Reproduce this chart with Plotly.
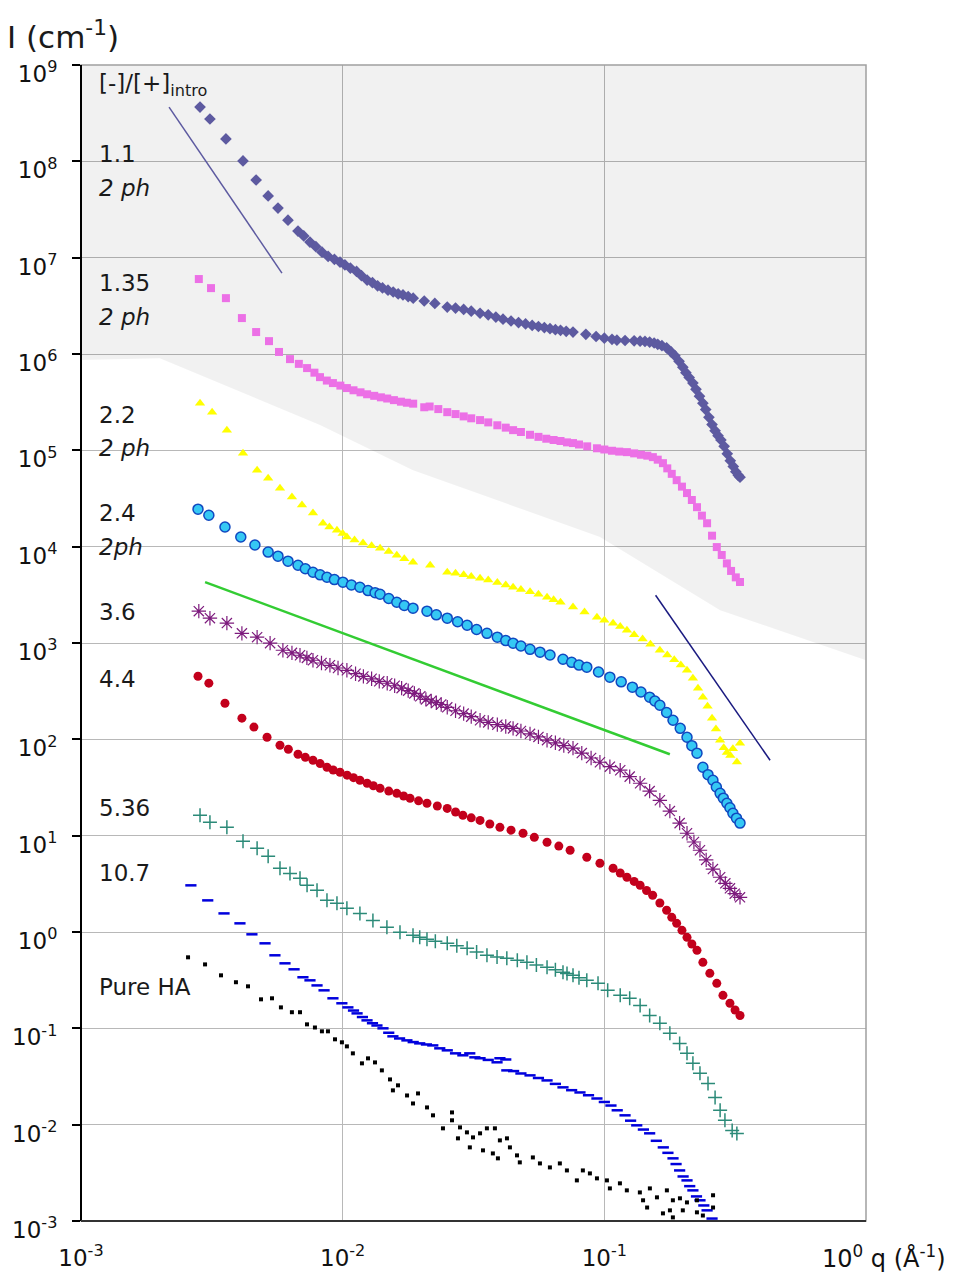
import plotly.graph_objects as go

# ---- SAXS curves: q (1/Å) and I (1/cm) for each [-]/[+] ratio ----
q_11 = [0.00285, 0.00311, 0.00358, 0.00416, 0.00467, 0.00519, 0.00566, 0.00618, 0.00675, 0.0071,
        0.0075, 0.0079, 0.00834, 0.0088, 0.0093, 0.00977, 0.0102, 0.0107, 0.0113, 0.0118,
        0.0124, 0.013, 0.0136, 0.0142, 0.0149, 0.0156, 0.0163, 0.017, 0.0178, 0.0186,
        0.0205, 0.0225, 0.0251, 0.027, 0.029, 0.031, 0.0335, 0.036, 0.0385, 0.041,
        0.044, 0.047, 0.05, 0.053, 0.056, 0.059, 0.062, 0.065, 0.068, 0.0715,
        0.0759, 0.085, 0.093, 0.1, 0.107, 0.1117, 0.12, 0.13, 0.137, 0.143,
        0.149, 0.155, 0.16, 0.166, 0.173, 0.18, 0.186, 0.193, 0.1995, 0.205,
        0.211, 0.218, 0.224, 0.231, 0.238, 0.244, 0.251, 0.258, 0.265, 0.272,
        0.279, 0.287, 0.295, 0.303, 0.311, 0.318, 0.325, 0.33]
I_11 = [3.66e8, 2.75e8, 1.71e8, 1.01e8, 6.4e7, 4.37e7, 3.27e7, 2.45e7, 1.89e7, 1.68e7,
        1.45e7, 1.3e7, 1.14e7, 1.03e7, 9.6e6, 9.0e6, 8.4e6, 7.8e6, 7.2e6, 6.5e6,
        5.85e6, 5.5e6, 5.1e6, 4.85e6, 4.6e6, 4.4e6, 4.2e6, 4.1e6, 3.95e6, 3.8e6,
        3.55e6, 3.35e6, 3.07e6, 3.0e6, 2.9e6, 2.78e6, 2.65e6, 2.55e6, 2.42e6, 2.3e6,
        2.2e6, 2.12e6, 2.05e6, 1.98e6, 1.93e6, 1.88e6, 1.83e6, 1.79e6, 1.76e6, 1.72e6,
        1.69e6, 1.6e6, 1.52e6, 1.46e6, 1.42e6, 1.39e6, 1.38e6, 1.37e6, 1.36e6, 1.35e6,
        1.33e6, 1.3e6, 1.26e6, 1.22e6, 1.16e6, 1.05e6, 9.6e5, 8.4e5, 7.3e5, 6.4e5,
        5.7e5, 4.99e5, 4.3e5, 3.65e5, 3.09e5, 2.65e5, 2.2e5, 1.85e5, 1.6e5, 1.42e5,
        1.28e5, 1.1e5, 9.2e4, 7.8e4, 6.8e4, 6.0e4, 5.5e4, 5.27e4]

q_135 = [0.00282, 0.00314, 0.00358, 0.00412, 0.00467, 0.00523, 0.00571, 0.00629, 0.0068, 0.00731,
         0.0078, 0.00819, 0.0087, 0.00918, 0.0098, 0.01038, 0.011, 0.0117, 0.0124, 0.0132,
         0.014, 0.0148, 0.0157, 0.0167, 0.0176, 0.0186, 0.0205, 0.0215, 0.0232, 0.0251,
         0.027, 0.029, 0.031, 0.0335, 0.036, 0.039, 0.042, 0.0448, 0.048, 0.052,
         0.056, 0.06, 0.064, 0.068, 0.072, 0.0759, 0.08, 0.086, 0.0937, 0.1,
         0.107, 0.114, 0.122, 0.13, 0.138, 0.146, 0.1533, 0.16, 0.1675, 0.174,
         0.181, 0.189, 0.198, 0.207, 0.216, 0.226, 0.236, 0.247, 0.258, 0.269,
         0.281, 0.294, 0.305, 0.318, 0.33]
I_135 = [6.0e6, 4.83e6, 3.8e6, 2.36e6, 1.69e6, 1.36e6, 1.05e6, 8.85e5, 7.9e5, 7.14e5,
         6.4e5, 5.75e5, 5.3e5, 4.99e5, 4.7e5, 4.43e5, 4.2e5, 4.0e5, 3.82e5, 3.68e5,
         3.55e5, 3.45e5, 3.32e5, 3.2e5, 3.12e5, 3.05e5, 2.8e5, 2.85e5, 2.68e5, 2.49e5,
         2.38e5, 2.25e5, 2.15e5, 2.06e5, 1.95e5, 1.82e5, 1.72e5, 1.62e5, 1.55e5, 1.45e5,
         1.38e5, 1.32e5, 1.28e5, 1.25e5, 1.21e5, 1.19e5, 1.15e5, 1.1e5, 1.05e5, 1.02e5,
         9.9e4, 9.7e4, 9.58e4, 9.3e4, 9.0e4, 8.8e4, 8.5e4, 8.0e4, 7.36e4, 6.5e4,
         5.7e4, 4.9e4, 4.2e4, 3.6e4, 3.05e4, 2.57e4, 2.1e4, 1.75e4, 1.3e4, 9.9e3,
         8.2e3, 6.7e3, 5.6e3, 4.8e3, 4.3e3]

q_22 = [0.00285, 0.00317, 0.00361, 0.00416, 0.00471, 0.00519, 0.00576, 0.0064, 0.00699, 0.0077,
        0.00841, 0.0089, 0.00951, 0.01, 0.01038, 0.0111, 0.01196, 0.0129, 0.0139, 0.015,
        0.0161, 0.0172, 0.01857, 0.0216, 0.0251, 0.027, 0.029, 0.031, 0.0335, 0.036,
        0.039, 0.042, 0.0448, 0.048, 0.052, 0.056, 0.0604, 0.064, 0.068, 0.0759,
        0.084, 0.0937, 0.1, 0.108, 0.115, 0.122, 0.13, 0.14, 0.15, 0.163,
        0.174, 0.185, 0.196, 0.207, 0.218, 0.228, 0.238, 0.248, 0.258, 0.267,
        0.277, 0.286, 0.294, 0.303, 0.31, 0.321, 0.33]
I_22 = [3.09e5, 2.49e5, 1.62e5, 9.35e4, 6.23e4, 5.14e4, 4.05e4, 3.27e4, 2.7e4, 2.23e4,
        1.75e4, 1.6e4, 1.48e4, 1.37e4, 1.26e4, 1.17e4, 1.09e4, 1.02e4, 9.64e3, 8.9e3,
        8.16e3, 7.5e3, 6.9e3, 6.43e3, 5.43e3, 5.3e3, 5.1e3, 4.9e3, 4.71e3, 4.5e3,
        4.25e3, 4.0e3, 3.8e3, 3.6e3, 3.4e3, 3.2e3, 2.99e3, 2.82e3, 2.65e3, 2.36e3,
        2.1e3, 1.85e3, 1.72e3, 1.6e3, 1.48e3, 1.36e3, 1.22e3, 1.1e3, 9.7e2, 8.4e2,
        7.5e2, 6.7e2, 5.9e2, 5.2e2, 4.3e2, 3.4e2, 2.74e2, 2.2e2, 1.66e2, 1.28e2,
        98, 82, 73, 68, 80, 58, 91]

q_24 = [0.0028, 0.00308, 0.00355, 0.00408, 0.00462, 0.00519, 0.00566, 0.00618, 0.00675, 0.0072,
        0.0077, 0.0082, 0.00871, 0.0093, 0.01002, 0.0108, 0.01164, 0.0125, 0.0133, 0.0139,
        0.015, 0.0161, 0.0172, 0.01857, 0.021, 0.0228, 0.0251, 0.0275, 0.0299, 0.0325,
        0.0356, 0.039, 0.042, 0.0448, 0.048, 0.052, 0.0568, 0.062, 0.0695, 0.075,
        0.08, 0.0857, 0.095, 0.105, 0.116, 0.128, 0.138, 0.149, 0.156, 0.163,
        0.173, 0.183, 0.195, 0.207, 0.216, 0.226, 0.238, 0.249, 0.26, 0.268,
        0.277, 0.285, 0.294, 0.302, 0.31, 0.32, 0.33]
I_24 = [2.45e4, 2.12e4, 1.6e4, 1.26e4, 1.04e4, 8.78e3, 7.97e3, 7.07e3, 6.42e3, 5.9e3,
        5.43e3, 5.1e3, 4.82e3, 4.55e3, 4.28e3, 4.0e3, 3.79e3, 3.5e3, 3.33e3, 3.21e3,
        2.9e3, 2.65e3, 2.45e3, 2.3e3, 2.14e3, 1.96e3, 1.81e3, 1.66e3, 1.53e3, 1.38e3,
        1.26e3, 1.15e3, 1.06e3, 9.96e2, 9.3e2, 8.6e2, 8.03e2, 7.5e2, 6.79e2, 6.3e2,
        5.9e2, 5.61e2, 5.0e2, 4.42e2, 3.95e2, 3.48e2, 3.1e2, 2.74e2, 2.5e2, 2.26e2,
        1.9e2, 1.58e2, 1.3e2, 1.05e2, 86, 71.8, 51.3, 43, 37.6, 32,
        27.5, 24.5, 21.7, 19.5, 17.1, 15.2, 13.5]

q_36 = [0.00282, 0.00311, 0.00361, 0.00412, 0.00471, 0.00528, 0.00591, 0.0064, 0.00687, 0.0073,
        0.0077, 0.0083, 0.00894, 0.0096, 0.01038, 0.0112, 0.012, 0.0129, 0.0138, 0.0148,
        0.0158, 0.0168, 0.0178, 0.0188, 0.0198, 0.0208, 0.0218, 0.0228, 0.0238, 0.0251,
        0.027, 0.029, 0.031, 0.0335, 0.036, 0.039, 0.042, 0.0448, 0.048, 0.052,
        0.056, 0.0604, 0.065, 0.07, 0.0759, 0.082, 0.089, 0.0962, 0.105, 0.115,
        0.125, 0.137, 0.149, 0.163, 0.178, 0.194, 0.207, 0.22, 0.232, 0.245,
        0.26, 0.277, 0.29, 0.302, 0.315, 0.33]
I_36 = [2.14e3, 1.81e3, 1.61e3, 1.26e3, 1.15e3, 9.96e2, 8.41e2, 7.9e2, 7.46e2, 7.0e2,
        6.62e2, 6.2e2, 5.87e2, 5.5e2, 5.21e2, 4.8e2, 4.5e2, 4.25e2, 4.0e2, 3.82e2,
        3.6e2, 3.4e2, 3.2e2, 3.0e2, 2.8e2, 2.6e2, 2.5e2, 2.4e2, 2.3e2, 2.15e2,
        1.98e2, 1.85e2, 1.72e2, 1.58e2, 1.5e2, 1.42e2, 1.36e2, 1.3e2, 1.22e2, 1.14e2,
        1.06e2, 98, 92, 86, 81, 72, 64, 57.8, 52, 47.8,
        41, 35, 29, 23.3, 18, 13.5, 10.6, 8.6, 7.06, 5.6,
        4.5, 3.7, 3.2, 2.84, 2.5, 2.29]

q_44 = [0.0028, 0.00308, 0.00355, 0.00412, 0.00458, 0.00514, 0.00576, 0.0062, 0.00675, 0.0072,
        0.0077, 0.0082, 0.00871, 0.0092, 0.00977, 0.0104, 0.011, 0.01164, 0.0124, 0.0131,
        0.0139, 0.015, 0.0161, 0.0171, 0.0181, 0.0195, 0.021, 0.023, 0.0251, 0.027,
        0.0288, 0.031, 0.0335, 0.0365, 0.0399, 0.044, 0.0489, 0.054, 0.0604, 0.067,
        0.074, 0.0857, 0.0962, 0.108, 0.115, 0.122, 0.13, 0.137, 0.145, 0.153,
        0.163, 0.173, 0.181, 0.189, 0.198, 0.207, 0.216, 0.226, 0.238, 0.253,
        0.269, 0.284, 0.302, 0.316, 0.33]
I_44 = [4.52e2, 3.83e2, 2.37e2, 1.66e2, 1.34e2, 1.05e2, 86.9, 79, 70, 65,
        60.7, 56, 51.3, 48, 45.5, 42.5, 40, 37.6, 35, 33,
        31, 29, 27.5, 25.8, 24.4, 23, 21.7, 20.3, 19.2, 17.6,
        16.3, 15.3, 14.4, 13.2, 12.2, 11.4, 10.6, 9.6, 8.55, 7.8,
        7.06, 5.97, 5.17, 4.59, 4.1, 3.7, 3.35, 3.06, 2.7, 2.41,
        2.0, 1.68, 1.42, 1.23, 1.04, 0.88, 0.75, 0.645, 0.484, 0.372,
        0.293, 0.22, 0.182, 0.155, 0.136]

q_536 = [0.00285, 0.00311, 0.00361, 0.00416, 0.00471, 0.00519, 0.00576, 0.00629, 0.00687, 0.00731,
         0.00798, 0.00871, 0.00951, 0.01038, 0.01164, 0.01305, 0.01476, 0.01656, 0.01857, 0.0197,
         0.021, 0.0226, 0.0251, 0.0273, 0.0299, 0.0325, 0.0356, 0.0389, 0.0424, 0.0465,
         0.0506, 0.055, 0.0604, 0.065, 0.0695, 0.072, 0.0759, 0.08, 0.0857, 0.0946,
         0.103, 0.115, 0.125, 0.137, 0.149, 0.163, 0.178, 0.194, 0.207, 0.218,
         0.232, 0.249, 0.265, 0.277, 0.289, 0.308, 0.321]
I_536 = [16.3, 13.8, 12.2, 8.75, 7.4, 6.11, 4.58, 4.06, 3.61, 3.05,
         2.71, 2.13, 1.99, 1.76, 1.56, 1.32, 1.12, 0.993, 0.925, 0.88,
         0.84, 0.8, 0.763, 0.72, 0.678, 0.62, 0.573, 0.55, 0.533, 0.51,
         0.484, 0.455, 0.43, 0.405, 0.381, 0.37, 0.355, 0.335, 0.315, 0.293,
         0.248, 0.22, 0.205, 0.173, 0.136, 0.113, 0.0887, 0.0698, 0.055, 0.0433,
         0.0341, 0.0268, 0.0192, 0.0141, 0.0111, 0.0087, 0.0081]

q_107 = [0.00263, 0.00305, 0.00352, 0.00405, 0.0045, 0.00505, 0.00551, 0.00602, 0.00652, 0.00705,
         0.0075, 0.00798, 0.00849, 0.00918, 0.00993, 0.01047, 0.011, 0.01135, 0.0119, 0.01239,
         0.013, 0.01352, 0.01426, 0.015, 0.01556, 0.0165, 0.0176, 0.0186, 0.0197, 0.0209,
         0.0221, 0.0235, 0.0251, 0.027, 0.0288, 0.0306, 0.032, 0.0335, 0.036, 0.0389,
         0.0399, 0.042, 0.0424, 0.045, 0.048, 0.052, 0.056, 0.0604, 0.065, 0.0695,
         0.075, 0.0807, 0.087, 0.0937, 0.1, 0.106, 0.112, 0.12, 0.126, 0.133,
         0.141, 0.149, 0.158, 0.168, 0.175, 0.183, 0.188, 0.194, 0.2, 0.207,
         0.212, 0.218, 0.225, 0.232, 0.24, 0.247, 0.258]
I_107 = [3.05, 2.13, 1.56, 1.23, 0.946, 0.763, 0.573, 0.473, 0.41, 0.339,
         0.315, 0.279, 0.248, 0.205, 0.182, 0.165, 0.153, 0.143, 0.131, 0.121,
         0.113, 0.107, 0.1, 0.09, 0.0826, 0.0785, 0.075, 0.072, 0.0698, 0.068,
         0.0665, 0.062, 0.0591, 0.055, 0.0525, 0.055, 0.05, 0.0489, 0.047, 0.0444,
         0.0489, 0.0475, 0.0366, 0.036, 0.034, 0.0325, 0.0305, 0.0288, 0.0265, 0.0244,
         0.0228, 0.0216, 0.0202, 0.0187, 0.0172, 0.0158, 0.0141, 0.0125, 0.011, 0.00984,
         0.0089, 0.00813, 0.0068, 0.00581, 0.0051, 0.00447, 0.0039, 0.00335, 0.0029, 0.00264,
         0.0023, 0.00208, 0.0018, 0.00164, 0.00145, 0.00129, 0.00106]

q_HA = [0.002565, 0.002979, 0.003428, 0.00391, 0.004347, 0.004875, 0.00537, 0.005808, 0.006397, 0.00687,
        0.007305, 0.007834, 0.008331, 0.008786, 0.009347, 0.009934, 0.01038, 0.01094, 0.01185, 0.0125,
        0.01329, 0.01412, 0.01517, 0.01627, 0.01556, 0.01762, 0.01941, 0.01857, 0.02101, 0.02214,
        0.02417, 0.02617, 0.02617, 0.02808, 0.02985, 0.02758, 0.03149, 0.0335, 0.03558, 0.03818,
        0.03062, 0.03437, 0.0375, 0.03989, 0.04245, 0.04357, 0.04637, 0.0392, 0.04753, 0.05332,
        0.05674, 0.06194, 0.06761, 0.07194, 0.07853, 0.08278, 0.08807, 0.09371, 0.1023, 0.1147,
        0.105, 0.1219, 0.1367, 0.1493, 0.1589, 0.1406, 0.1734, 0.1828, 0.1945, 0.2069,
        0.1457, 0.1675, 0.1781, 0.1995, 0.2259, 0.238, 0.2603, 0.2603, 0.2259, 0.1828]
I_HA = [0.546, 0.461, 0.355, 0.301, 0.273, 0.2, 0.205, 0.165, 0.147, 0.147,
        0.11, 0.102, 0.0931, 0.0931, 0.0769, 0.0716, 0.065, 0.055, 0.0433, 0.0488,
        0.0443, 0.0366, 0.0295, 0.0256, 0.0227, 0.0201, 0.0211, 0.0166, 0.0151, 0.0125,
        0.00916, 0.0134, 0.0111, 0.00937, 0.00832, 0.00721, 0.00738, 0.00813, 0.00916, 0.00916,
        0.00581, 0.00541, 0.00503, 0.00687, 0.00721, 0.00581, 0.0048, 0.00447, 0.00406, 0.00457,
        0.00396, 0.0036, 0.00396, 0.00335, 0.00264, 0.00335, 0.00312, 0.00277, 0.00264, 0.00246,
        0.00218, 0.00208, 0.00198, 0.00218, 0.00176, 0.00164, 0.00208, 0.00164, 0.00172, 0.00156,
        0.00138, 0.0012, 0.00129, 0.00129, 0.00123, 0.00114, 0.00185, 0.00138, 0.00164, 0.00109]

# ---- guide lines (power laws) ----
q_porod_low = [0.00217, 0.00586]
I_porod_low = [3.66e8, 6.92e6]
q_slope1 = [0.00298, 0.178]
I_slope1 = [4.28e3, 70]
q_porod_high = [0.157, 0.43]
I_porod_high = [3.13e3, 60.7]

# ---- boundary of the two-phase (shaded) domain ----
q_shade = [0.001, 1.0, 1.0, 0.277, 0.0962, 0.01857, 0.00819, 0.0020, 0.001]
I_shade = [1e9, 1e9, 662, 2.19e3, 1.26e4, 6.22e4, 1.83e5, 9.06e5, 8.65e5]

# ---- tick labels ----
x_ticks = [1e-3, 1e-2, 1e-1, 1.0]
x_ticktext = ["10<sup>-3</sup>", "10<sup>-2</sup>", "10<sup>-1</sup>", ""]
y_exps = list(range(-3, 10))
y_ticks = [10.0 ** k for k in y_exps]
y_ticktext = ["10<sup>%d</sup>" % k for k in y_exps]

# ---- curve labels (text, paper-y, italic) ----
labels = [
    ("[-]/[+]<sub>intro</sub>", 0.9827, False),
    ("1.1", 0.9230, False),
    ("2 ph", 0.8940, True),
    ("1.35", 0.8114, False),
    ("2 ph", 0.7820, True),
    ("2.2", 0.6970, False),
    ("2 ph", 0.6683, True),
    ("2.4", 0.6125, False),
    ("2ph", 0.5830, True),
    ("3.6", 0.5268, False),
    ("4.4", 0.4689, False),
    ("5.36", 0.3575, False),
    ("10.7", 0.3010, False),
    ("Pure HA", 0.2025, False),
]

FONT = "DejaVu Sans"
fig = go.Figure()

fig.add_trace(go.Scatter(x=q_shade, y=I_shade, mode="none", fill="toself",
                         fillcolor="rgba(0,0,0,0.055)", hoverinfo="skip"))

series = [
    (q_11, I_11, dict(symbol="diamond", size=9, color="#5d5aa0")),
    (q_135, I_135, dict(symbol="square", size=8, color="#ec70e6")),
    (q_22, I_22, dict(symbol="triangle-up", size=9, color="#ffff00")),
    (q_24, I_24, dict(symbol="circle", size=10, color="#35c8f4",
                      line=dict(color="#1048c0", width=1.5))),
    (q_36, I_36, dict(symbol="asterisk-open", size=12, color="#7d1a7d",
                      line=dict(color="#7d1a7d", width=1.2))),
    (q_44, I_44, dict(symbol="circle", size=9, color="#c3001c")),
    (q_536, I_536, dict(symbol="cross-thin-open", size=10, color="#2b8a78",
                        line=dict(color="#2b8a78", width=1.5))),
    (q_107, I_107, dict(symbol="line-ew-open", size=8, color="#0000dd",
                        line=dict(color="#0000dd", width=2.5))),
    (q_HA, I_HA, dict(symbol="square", size=4, color="#000000")),
]
for qv, iv, mk in series:
    fig.add_trace(go.Scatter(x=qv, y=iv, mode="markers", marker=mk))

fig.add_trace(go.Scatter(x=q_porod_low, y=I_porod_low, mode="lines",
                         line=dict(color="#5d5aa0", width=1.5)))
fig.add_trace(go.Scatter(x=q_slope1, y=I_slope1, mode="lines",
                         line=dict(color="#33cc33", width=2.5)))
fig.add_trace(go.Scatter(x=q_porod_high, y=I_porod_high, mode="lines",
                         line=dict(color="#1a1a80", width=1.5)))

tickfont = dict(family=FONT, size=23, color="#111111")
fig.update_xaxes(type="log", range=[-3, 0], tickvals=x_ticks, ticktext=x_ticktext,
                 showgrid=True, gridcolor="#b8b8b8", gridwidth=1, zeroline=False,
                 showline=False, ticks="", tickfont=tickfont, ticklabelstandoff=21,
                 automargin=False)
fig.update_yaxes(type="log", range=[-3, 9], tickvals=y_ticks, ticktext=y_ticktext,
                 showgrid=True, gridcolor="#b8b8b8", gridwidth=1, zeroline=False,
                 showline=False, ticks="outside", ticklen=8, tickwidth=1.5,
                 tickcolor="#000000", tickfont=tickfont, ticklabelstandoff=10,
                 ticklabelshift=9, automargin=False)

annotations = []
for text, py, italic in labels:
    annotations.append(dict(
        text="<i>%s</i>" % text if italic else text,
        xref="paper", yref="paper", x=0.0204, y=py, xanchor="left", yanchor="middle",
        showarrow=False, font=dict(family=FONT, size=23, color="#1a1a1a")))
annotations.append(dict(text="I (cm<sup>-1</sup>)", xref="paper", yref="paper",
                        x=-0.097, y=1.026, xanchor="left", yanchor="middle",
                        showarrow=False, font=dict(family=FONT, size=31, color="#1a1a1a")))
annotations.append(dict(text="10<sup>0</sup> q (Å<sup>-1</sup>)", xref="paper", yref="paper",
                        x=0.9414, y=-0.031, xanchor="left", yanchor="middle",
                        showarrow=False, font=dict(family=FONT, size=24, color="#111111")))

shapes = [
    dict(type="rect", xref="paper", yref="paper", x0=0, x1=1, y0=0, y1=1,
         line=dict(color="#a0a0a0", width=1.5), layer="above"),
    dict(type="line", xref="paper", yref="paper", x0=0, x1=0, y0=0, y1=1,
         line=dict(color="#000000", width=2), layer="above"),
    dict(type="line", xref="paper", yref="paper", x0=0, x1=1, y0=0, y1=0,
         line=dict(color="#333333", width=2), layer="above"),
]

fig.update_layout(width=956, height=1277, showlegend=False,
                  margin=dict(l=81, r=90, t=65, b=56),
                  paper_bgcolor="white", plot_bgcolor="white",
                  annotations=annotations, shapes=shapes,
                  font=dict(family=FONT))

fig.write_html("out.html")
